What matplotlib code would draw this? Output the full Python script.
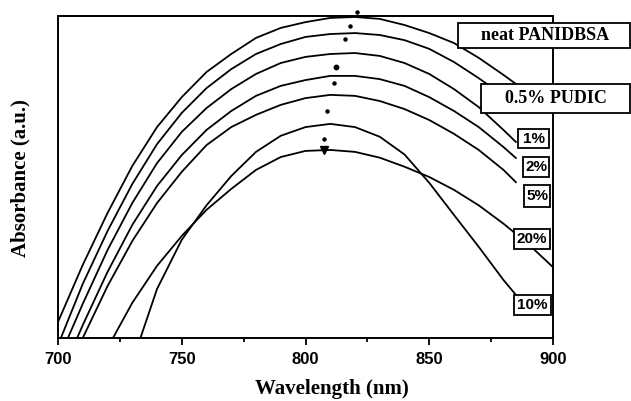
import matplotlib.pyplot as plt
import numpy as np

# wavelength grid (nm) for the five upper spectra
wl = [700, 710, 720, 730, 740, 750, 760, 770, 780, 790, 800, 810, 820, 830, 840, 850, 860, 870, 880, 885]

neat = [0.050, 0.227, 0.388, 0.534, 0.655, 0.748, 0.826, 0.882, 0.932, 0.963,
        0.981, 0.994, 0.997, 0.991, 0.972, 0.947, 0.916, 0.870, 0.817, 0.789]
pudic_05 = [-0.022, 0.168, 0.332, 0.478, 0.602, 0.699, 0.776, 0.835, 0.882, 0.913,
            0.935, 0.944, 0.947, 0.941, 0.925, 0.898, 0.857, 0.807, 0.752, 0.724]
pudic_1 = [-0.071, 0.106, 0.273, 0.419, 0.543, 0.640, 0.714, 0.773, 0.820, 0.854,
           0.873, 0.882, 0.885, 0.876, 0.854, 0.820, 0.773, 0.717, 0.646, 0.609]
pudic_2 = [-0.137, 0.040, 0.205, 0.351, 0.472, 0.568, 0.646, 0.705, 0.752, 0.783,
           0.801, 0.814, 0.814, 0.804, 0.783, 0.748, 0.705, 0.655, 0.593, 0.559]
pudic_5 = [-0.177, 0.000, 0.161, 0.301, 0.419, 0.516, 0.599, 0.655, 0.693, 0.724,
           0.745, 0.755, 0.752, 0.736, 0.711, 0.677, 0.634, 0.584, 0.522, 0.484]

wl_10 = [730, 740, 750, 760, 770, 780, 790, 800, 810, 820, 830, 840, 850, 860, 870, 880, 885]
pudic_10 = [-0.075, 0.152, 0.305, 0.412, 0.503, 0.578, 0.628, 0.655, 0.665, 0.655,
            0.625, 0.570, 0.482, 0.382, 0.283, 0.180, 0.134]

wl_20 = [720, 730, 740, 750, 760, 770, 780, 790, 800, 810, 820, 830, 840, 850, 860, 870, 880, 890, 900]
pudic_20 = [-0.031, 0.109, 0.224, 0.317, 0.398, 0.463, 0.522, 0.562, 0.581, 0.584,
            0.578, 0.560, 0.532, 0.500, 0.460, 0.412, 0.355, 0.292, 0.220]

# peak position markers
peak_wl = [820.8, 818.0, 816.0, 812.3, 811.5, 808.7, 807.5]
peak_abs = [1.012, 0.969, 0.929, 0.842, 0.792, 0.705, 0.618]
arrow_wl = [807.5]
arrow_abs = [0.583]

labels = ['neat PANIDBSA', '0.5% PUDIC', '1%', '2%', '5%', '20%', '10%']
xticks = [700, 750, 800, 850, 900]

W, H = 631, 401
fig = plt.figure(figsize=(W / 100, H / 100), dpi=100)
ax = fig.add_axes([58 / W, 1 - 338 / H, 495 / W, 322 / H])

for x, y in [(wl, neat), (wl, pudic_05), (wl, pudic_1), (wl, pudic_2), (wl, pudic_5),
             (wl_10, pudic_10), (wl_20, pudic_20)]:
    ax.plot(x, y, color='black', lw=1.3)

ax.plot(peak_wl[:3] + peak_wl[4:], peak_abs[:3] + peak_abs[4:], 'o', color='black', ms=2.2, clip_on=False)
ax.plot(peak_wl[3], peak_abs[3], 'o', color='black', ms=3.2)
ax.plot(arrow_wl, arrow_abs, 'v', color='black', ms=6)

ax.set_xlim(700, 900)
ax.set_ylim(0, 1)
ax.set_xticks(xticks)
ax.set_xticks(np.arange(725, 900, 50), minor=True)
ax.set_yticks([])
ax.tick_params(axis='x', which='major', direction='out', length=5, width=1.3, pad=5)
ax.tick_params(axis='x', which='minor', direction='out', length=3, width=1.3)
for lab in ax.get_xticklabels():
    lab.set_family('Liberation Sans')
    lab.set_fontsize(12)
    lab.set_fontweight('bold')
for sp in ax.spines.values():
    sp.set_linewidth(1.4)

serif = 'Liberation Serif'
fig.text(332 / W, 1 - 389 / H, 'Wavelength (nm)', ha='center', va='center',
         family=serif, fontweight='bold', fontsize=15)
fig.text(20 / W, 1 - 178 / H, 'Absorbance (a.u.)', rotation=90, ha='center', va='center',
         family=serif, fontweight='bold', fontsize=15)

# label boxes (pixel layout)
boxes = [(458, 23, 630, 48), (481, 84, 630, 113), (518, 129, 549, 148), (523, 157, 549, 177),
         (524, 185, 550, 207), (514, 229, 550, 249), (514, 295, 551, 315)]
for i, (text, (x0, y0, x1, y1)) in enumerate(zip(labels, boxes)):
    rect = plt.Rectangle((x0 / W, 1 - y1 / H), (x1 - x0) / W, (y1 - y0) / H,
                         transform=fig.transFigure, facecolor='white', edgecolor='black',
                         lw=1.3, zorder=5)
    fig.patches.append(rect)
    if i < 2:
        cx = 545 if i == 0 else 556
        fig.text(cx / W, 1 - (y0 + y1) / 2 / H, text, ha='center', va='center', family=serif,
                 fontweight='bold', fontsize=13, zorder=6)
    else:
        fig.text((x0 + x1) / 2 / W, 1 - (y0 + y1) / 2 / H, text, ha='center', va='center',
                 family='Liberation Sans', fontweight='bold', fontsize=11, zorder=6)

fig.savefig('out.png', dpi=100)
